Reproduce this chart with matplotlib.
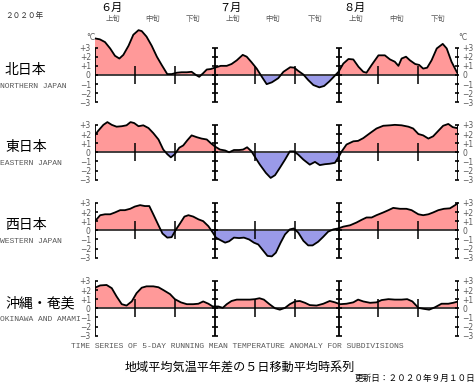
"""
Regional 5-day running mean temperature anomaly, summer 2020 (Jun-Aug).
Four stacked panels, day 0 = 1 June.
"""
import matplotlib
matplotlib.use("Agg")
import matplotlib.pyplot as plt
import matplotlib.transforms as mtrans
import numpy as np

plt.rcParams["font.family"] = ["Noto Sans CJK JP", "DejaVu Sans"]

JP = ["Noto Sans CJK JP", "DejaVu Sans"]
MONO = "Liberation Mono"

# ---- data (day index from 1 June, anomaly in degC) ----
regions_jp = ["北日本", "東日本", "西日本", "沖縄・奄美"]
regions_en = ["NORTHERN JAPAN", "EASTERN JAPAN", "WESTERN JAPAN", "OKINAWA AND AMAMI"]

days_north = [0, 1.2, 2.5, 3.8, 5, 6.1, 7.1, 8.4, 9.6, 10.9, 11.7, 12.9, 14.2, 15.5, 16.7,
              18.1, 19.2, 20.5, 21.7, 23, 24.2, 25.3, 26.1, 27.1, 28, 29, 30, 31.5, 33, 34.2,
              35.5, 37, 38, 39.2, 40.5, 41.8, 43, 44.3, 45.9, 47.2, 48.9, 49.9, 50.9, 52.2, 53.4,
              54.7, 56.2, 57.4, 58.7, 59.8, 61, 62.2, 63.5, 64.7, 66, 67.2, 68, 69.3, 71, 72.6,
              73.9, 75.1, 76, 76.8, 77.9, 78.9, 80.2, 81.2, 82.2, 83.2, 84.3, 85.6, 87.1, 88.1,
              89.3, 90.6, 91]
anom_north = [4.0, 3.9, 3.6, 2.9, 2.1, 1.8, 2.2, 3.2, 4.4, 4.9, 4.8, 4.2, 3.2, 2.0, 1.1,
              0.1, 0.1, 0.25, 0.3, 0.3, 0.35, 0.0, -0.2, 0.2, 0.6, 0.65, 0.8, 1.0, 1.0, 1.2,
              1.6, 2.2, 2.0, 1.4, 0.7, -0.2, -1.0, -0.8, -0.35, 0.35, 0.85, 0.8, 0.45, 0.05, -0.55,
              -1.1, -1.35, -1.2, -0.7, -0.2, 0.35, 1.25, 1.75, 1.7, 0.9, 0.35, 0.25, 1.1, 2.15, 2.15,
              1.7, 1.45, 1.0, 1.8, 2.0, 1.6, 1.2, 1.1, 0.7, 0.8, 1.6, 2.9, 3.4, 2.9,
              1.45, 0.35, 0.05]

days_east = [0, 0.8, 2.1, 3.1, 4.2, 5.4, 6.7, 7.9, 8.9, 9.8, 10.9, 12.1, 13.4, 14.6, 15.9,
             17.1, 18.1, 19, 20, 21.1, 22.1, 23.1, 24.2, 25.5, 26.7, 28, 29, 30, 31.3, 32.6,
             33.6, 34.8, 36.1, 37.1, 38.1, 39.2, 40.2, 41.3, 42.8, 44, 45.1, 46.3, 47.6, 48.8, 49.8,
             50.9, 52.2, 53.8, 55.1, 56.3, 57.6, 58.8, 60.1, 60.9, 61.8, 63, 64.7, 65.9, 67.2, 68.9,
             70.5, 72.2, 73.9, 75.1, 76.8, 78.5, 79.7, 81, 82.2, 83.5, 84.7, 86, 87.2, 88.5, 89.6,
             90.6, 91]
anom_east = [1.9, 2.35, 3.0, 3.3, 3.0, 2.8, 2.85, 2.95, 3.3, 3.2, 2.85, 2.95, 2.65, 2.1, 1.4,
             0.3, -0.2, -0.55, -0.2, 0.5, 0.75, 1.3, 1.85, 1.65, 1.5, 1.4, 1.0, 0.65, 0.3, 0.2,
             0.0, 0.25, 0.25, 0.3, 0.55, 0.1, -0.6, -1.35, -2.25, -2.8, -2.5, -1.7, -0.8, 0.1, 0.1,
             -0.25, -0.8, -1.35, -1.05, -1.4, -1.3, -1.25, -1.15, -0.6, 0.1, 0.85, 1.2, 1.25, 1.55, 2.1,
             2.6, 2.9, 2.95, 3.0, 2.95, 2.8, 2.6, 2.0, 1.85, 1.5, 1.75, 2.35, 2.9, 3.1, 2.75,
             2.65, 2.75]

days_west = [0, 1.3, 2.5, 3.8, 5, 6.3, 7.5, 8.8, 10, 11.3, 12.5, 13.6, 14.6, 15.9, 16.9,
             18.1, 19.2, 20.3, 21.3, 22.4, 23.4, 24.6, 25.9, 27.1, 28.4, 29.5, 30.3, 31.3, 32.6, 33.6,
             34.8, 36.1, 37.3, 38.6, 39.8, 40.9, 42, 43.2, 44.3, 45.3, 46.5, 47.6, 48.8, 49.8, 50.9,
             52.2, 53.4, 54.5, 55.9, 57.2, 58.4, 59.7, 60.9, 62.2, 63.9, 65.5, 66.8, 68, 69.3, 70.5,
             72.2, 73.5, 74.7, 76.4, 78, 79.3, 81, 82.2, 83.5, 84.7, 86, 87.4, 88.9, 90.2, 91]
anom_west = [1.0, 1.65, 1.75, 1.75, 1.95, 2.2, 2.2, 2.35, 2.6, 2.75, 2.65, 2.65, 1.75, 0.55, -0.35,
             -0.8, -0.75, 0.1, 0.75, 1.5, 1.65, 1.5, 1.2, 1.0, 0.45, -0.25, -0.8, -1.05, -1.35, -1.2,
             -0.8, -0.85, -0.8, -1.0, -1.35, -1.55, -2.15, -2.8, -2.85, -2.45, -1.35, -0.45, 0.1, 0.2, -0.25,
             -1.15, -1.65, -1.65, -1.25, -0.7, -0.15, 0.1, 0.2, 0.4, 0.55, 0.85, 1.15, 1.4, 1.4, 1.65,
             1.95, 2.2, 2.45, 2.35, 2.35, 2.2, 1.75, 1.65, 1.75, 1.95, 2.2, 2.35, 2.4, 2.75, 3.0]

days_okinawa = [0, 1.3, 2.9, 4.2, 5.4, 6.7, 7.9, 9.2, 10.4, 11.7, 12.9, 14.6, 15.9, 17.1, 18.8,
                20, 21.5, 23, 24.6, 25.9, 27.1, 28.4, 29.5, 30.9, 32, 33, 34.2, 35.5, 37.1, 38.8,
                40.1, 41.2, 42.3, 43.7, 45.1, 46.3, 47.6, 48.8, 50.1, 51.3, 52.6, 53.8, 55.5, 57.2, 58.8,
                60.1, 61.4, 63, 64.7, 65.9, 67.2, 68.9, 70.5, 71.8, 73.5, 75.1, 76.8, 78.2, 79.5, 81,
                82.2, 83.7, 85.1, 86.8, 88.5, 89.7, 91]
anom_okinawa = [2.25, 2.5, 2.55, 2.2, 1.3, 0.45, 0.3, 0.75, 1.65, 2.25, 2.4, 2.4, 2.3, 2.0, 1.55,
                1.0, 0.65, 0.45, 0.45, 0.5, 0.75, 0.5, 0.2, 0.2, 0.05, 0.45, 0.8, 0.95, 0.95, 0.95,
                1.0, 1.1, 0.95, 0.45, 0.0, -0.15, 0.05, 0.45, 0.75, 0.8, 0.6, 0.35, 0.3, 0.5, 0.8,
                0.65, 0.45, 0.5, 0.65, 0.95, 0.75, 0.6, 0.65, 0.9, 1.0, 0.95, 0.95, 1.0, 0.75, 0.05,
                -0.05, -0.15, 0.1, 0.5, 0.5, 0.6, 0.75]

series = [(days_north, anom_north), (days_east, anom_east),
          (days_west, anom_west), (days_okinawa, anom_okinawa)]

month_starts = [0, 30, 61, 91]          # 1 Jun, 1 Jul, 1 Aug, end of Aug
month_labels = ["６月", "７月", "８月"]
dekad_ticks = [10, 20, 40, 50, 71, 81]
dekad_centers = [4.5, 14.5, 24.5, 34.5, 44.5, 55, 65.5, 75.5, 86]
dekad_labels = ["上旬", "中旬", "下旬"] * 3
yvals = [-3, -2, -1, 0, 1, 2, 3]
ylabels = ["−3", "−2", "−1", "0", "+1", "+2", "+3"]

RED = "#ff9999"
BLUE = "#9a9ae8"
GREY = "#5a5a5a"

# ---- layout in pixels ----
W, H = 476, 382
PX_PER_DEG = 9.15
zero_rows = [75, 152.3, 230.3, 308.3]
x0_px, x1_px = 95, 458.3
YLO, YHI = -3.6, 5.4

fig = plt.figure(figsize=(W / 100, H / 100), dpi=100)

axes = []
for i, (days, anom) in enumerate(series):
    z = zero_rows[i]
    bottom = (H - (z - YLO * PX_PER_DEG)) / H
    ax = fig.add_axes([x0_px / W, bottom, (x1_px - x0_px) / W,
                       (YHI - YLO) * PX_PER_DEG / H])
    ax.patch.set_alpha(0)
    for s in ax.spines.values():
        s.set_visible(False)
    ax.set_xlim(0, 91)
    ax.set_ylim(YLO, YHI)

    d = np.array(days)
    a = np.array(anom)
    ax.fill_between(d, a, 0, where=a >= 0, interpolate=True, color=RED, lw=0)
    ax.fill_between(d, a, 0, where=a <= 0, interpolate=True, color=BLUE, lw=0)
    ax.axhline(0, color="#333333", lw=1.3, zorder=3)
    ax.plot(d, a, color="black", lw=1.3, zorder=4)

    # month lines with degree ticks
    for m in month_starts:
        ax.vlines(m, -3, 3, color="black", lw=1.3, zorder=5)
        ax.plot([m] * len(yvals), yvals, ls="none", marker="_", ms=5,
                mew=1.2, color="black", zorder=5)
    ax.vlines(dekad_ticks, -1, 1, color="black", lw=1.1, zorder=5)

    ax.set_xticks([])
    ax.set_yticks(yvals)
    ax.set_yticklabels(ylabels)
    ax.tick_params(axis="y", length=0, pad=3, labelsize=5.5, labelcolor=GREY,
                   labelleft=True, labelright=True)
    for t in ax.get_yticklabels():
        t.set_family("DejaVu Sans")
    axes.append(ax)

    # region names
    fig.text(5 / W, 1 - (z - 5) / H, regions_jp[i], fontsize=10, family=JP,
             ha="left", va="center")
    fig.text(0, 1 - (z + 11) / H, regions_en[i], fontsize=5.8, family=MONO,
             color=GREY, ha="left", va="center")

top = axes[0]
# degC unit markers above +3 of the top panel
top.text(0, 4.1, "°C", fontsize=5.5, color=GREY, ha="right", va="center",
         family="DejaVu Sans")
top.text(91, 4.1, "°C", fontsize=5.5, color=GREY, ha="left", va="center",
         family="DejaVu Sans")

# month / dekad headers
head = mtrans.blended_transform_factory(top.transData, fig.transFigure)
for m, lab in zip(month_starts[:3], month_labels):
    fig.text(m + 4, 1 - 8 / H, lab, transform=head, fontsize=8, family=JP,
             ha="center", va="center")
for c, lab in zip(dekad_centers, dekad_labels):
    fig.text(c, 1 - 19 / H, lab, transform=head, fontsize=5.3, family=JP,
             color=GREY, ha="center", va="center")

fig.text(5 / W, 1 - 16 / H, "２０２０年", fontsize=5.5, family=JP, color="#333333",
         ha="left", va="center")

fig.text(237 / W, 1 - 347 / H,
         "TIME SERIES OF 5-DAY RUNNING MEAN TEMPERATURE ANOMALY FOR SUBDIVISIONS",
         fontsize=5.8, family=MONO, color=GREY, ha="center", va="center")
fig.text(240 / W, 1 - 367 / H, "地域平均気温平年差の５日移動平均時系列",
         fontsize=8.7, family=JP, ha="center", va="center")
fig.text(475 / W, 1 - 378 / H, "更新日：２０２０年９月１０日",
         fontsize=6.2, family=JP, ha="right", va="center")

fig.savefig("out.png", dpi=100)
